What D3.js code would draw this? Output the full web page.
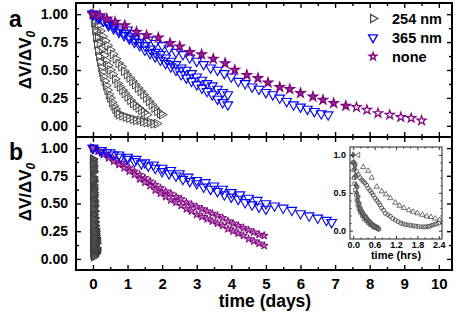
<!DOCTYPE html>
<html>
<head>
<meta charset="utf-8">
<script src="https://cdn.jsdelivr.net/npm/d3@7"></script>
<style>
  body { margin: 0; background: #fff; }
  svg { display: block; font-family: "Liberation Sans", Arial, sans-serif; font-weight: bold; }
</style>
</head>
<body>
<svg id="chart" width="471" height="314"></svg>
<script>
/* decay of dV/dV0 with time, two panels + inset */

// ---- panel a (days, value) ----
const a254_1 = [[0,1.00],[0.03,0.93],[0.06,0.86],[0.09,0.79],[0.12,0.73],[0.15,0.67],[0.18,0.62],[0.21,0.57],[0.24,0.52],[0.27,0.48],[0.30,0.44],[0.34,0.40],[0.38,0.36],[0.42,0.32],[0.46,0.28],[0.50,0.25],[0.55,0.21],[0.60,0.18],[0.65,0.15],[0.70,0.12],[0.75,0.10],[0.85,0.09],[0.95,0.08],[1.05,0.07],[1.15,0.06],[1.25,0.05],[1.35,0.05],[1.45,0.04],[1.55,0.03],[1.65,0.03],[1.75,0.02],[1.85,0.02]];
const a254_2 = [[0,1.00],[0.07,0.95],[0.14,0.90],[0.21,0.85],[0.28,0.80],[0.35,0.76],[0.42,0.72],[0.50,0.68],[0.58,0.64],[0.66,0.60],[0.74,0.56],[0.82,0.53],[0.90,0.49],[0.98,0.46],[1.06,0.43],[1.14,0.40],[1.22,0.37],[1.30,0.34],[1.38,0.31],[1.46,0.28],[1.54,0.25],[1.62,0.22],[1.70,0.19],[1.78,0.16],[1.86,0.13],[1.94,0.11],[2.00,0.10]];
const a254_3 = [[0,1.00],[0.05,0.92],[0.10,0.85],[0.15,0.79],[0.20,0.74],[0.26,0.68],[0.32,0.63],[0.38,0.58],[0.44,0.54],[0.50,0.50],[0.57,0.46],[0.64,0.42],[0.71,0.38],[0.78,0.35],[0.85,0.32],[0.92,0.29],[1.00,0.26],[1.08,0.23],[1.16,0.20],[1.24,0.18],[1.32,0.16],[1.40,0.14],[1.48,0.12],[1.56,0.10]];

const a365_1 = [[0,1.00],[0.2,0.97],[0.4,0.94],[0.6,0.91],[0.8,0.88],[1.0,0.86],[1.2,0.83],[1.4,0.80],[1.6,0.77],[1.8,0.74],[2.0,0.72],[2.2,0.69],[2.4,0.66],[2.6,0.64],[2.8,0.61],[3.0,0.58],[3.2,0.55],[3.4,0.52],[3.6,0.50],[3.8,0.47],[4.0,0.44],[4.2,0.40],[4.4,0.38],[4.6,0.35],[4.8,0.33],[5.0,0.30],[5.2,0.28],[5.4,0.25],[5.6,0.22],[5.8,0.19],[6.0,0.17],[6.2,0.15],[6.4,0.13],[6.6,0.11],[6.8,0.10]];
const a365_2 = [[0,1.00],[0.15,0.97],[0.3,0.94],[0.45,0.92],[0.6,0.89],[0.75,0.86],[0.9,0.83],[1.05,0.80],[1.2,0.78],[1.35,0.75],[1.5,0.72],[1.65,0.69],[1.8,0.66],[1.95,0.64],[2.1,0.61],[2.25,0.58],[2.4,0.55],[2.55,0.52],[2.7,0.50],[2.85,0.47],[3.0,0.44],[3.15,0.41],[3.3,0.38],[3.45,0.36],[3.6,0.33],[3.75,0.30],[3.9,0.28]];
const a365_3 = [[0,1.00],[0.15,0.97],[0.3,0.94],[0.45,0.90],[0.6,0.87],[0.75,0.84],[0.9,0.81],[1.05,0.78],[1.2,0.75],[1.35,0.72],[1.5,0.68],[1.65,0.65],[1.8,0.62],[1.95,0.59],[2.1,0.56],[2.25,0.53],[2.4,0.50],[2.55,0.46],[2.7,0.43],[2.85,0.40],[3.0,0.37],[3.15,0.34],[3.3,0.31],[3.45,0.28],[3.6,0.24],[3.75,0.21],[3.9,0.19]];

const aNone_1 = [[0,1.00],[0.2,0.99],[0.4,0.96],[0.64,0.93],[0.92,0.90],[1.26,0.84],[1.55,0.81],[1.89,0.79],[2.23,0.74],[2.51,0.71],[2.8,0.66],[3.14,0.64],[3.48,0.60],[3.82,0.56],[4.1,0.50],[4.45,0.455],[4.77,0.426],[5.06,0.387],[5.4,0.346],[5.69,0.328],[6.0,0.292],[6.36,0.262],[6.65,0.232],[6.96,0.203],[7.31,0.179]];
const aNone_2 = [[7.62,0.167],[7.92,0.143],[8.24,0.113],[8.58,0.098],[8.9,0.078],[9.2,0.069],[9.5,0.047]];

// ---- panel b (days, value) ----
const b365_1 = [[0,1.00],[0.25,0.98],[0.5,0.96],[0.75,0.94],[1.0,0.92],[1.25,0.90],[1.5,0.87],[1.75,0.85],[2.0,0.82],[2.25,0.80],[2.5,0.77],[2.75,0.74],[3.0,0.71],[3.25,0.69],[3.5,0.66],[3.75,0.63],[4.0,0.60],[4.25,0.58],[4.5,0.55],[4.75,0.53],[5.0,0.50],[5.25,0.48],[5.5,0.46],[5.75,0.44],[6.0,0.41],[6.25,0.39],[6.5,0.37],[6.75,0.35],[6.9,0.33]];
const b365_2 = [[0,1.00],[0.2,0.98],[0.4,0.96],[0.6,0.94],[0.8,0.92],[1.0,0.90],[1.2,0.88],[1.4,0.86],[1.6,0.84],[1.8,0.82],[2.0,0.79],[2.2,0.77],[2.4,0.75],[2.6,0.72],[2.8,0.70],[3.0,0.68],[3.2,0.65],[3.4,0.63],[3.6,0.61],[3.8,0.58],[4.0,0.56],[4.2,0.54],[4.4,0.51],[4.6,0.49],[4.8,0.47],[5.0,0.45]];

const bNone_1 = [[0,1.00],[0.15,0.98],[0.3,0.95],[0.45,0.93],[0.6,0.90],[0.75,0.87],[0.9,0.85],[1.05,0.82],[1.2,0.79],[1.35,0.76],[1.5,0.73],[1.65,0.70],[1.8,0.67],[1.95,0.64],[2.1,0.61],[2.25,0.59],[2.4,0.56],[2.55,0.54],[2.7,0.51],[2.85,0.49],[3.0,0.47],[3.15,0.45],[3.3,0.43],[3.45,0.41],[3.6,0.39],[3.75,0.37],[3.9,0.34],[4.05,0.32],[4.2,0.30],[4.35,0.28],[4.5,0.26],[4.65,0.24],[4.8,0.22],[4.95,0.21]];
const bNone_2 = [[0,1.00],[0.15,0.97],[0.3,0.94],[0.45,0.91],[0.6,0.88],[0.75,0.85],[0.9,0.82],[1.05,0.79],[1.2,0.76],[1.35,0.72],[1.5,0.69],[1.65,0.66],[1.8,0.62],[1.95,0.59],[2.1,0.56],[2.25,0.53],[2.4,0.51],[2.55,0.48],[2.7,0.45],[2.85,0.43],[3.0,0.40],[3.15,0.38],[3.3,0.36],[3.45,0.34],[3.6,0.32],[3.75,0.30],[3.9,0.27],[4.05,0.25],[4.2,0.23],[4.35,0.21],[4.5,0.18],[4.65,0.16],[4.8,0.14],[4.95,0.12]];

// ---- inset, 254 nm runs (hours, value) ----
const insTri = [[0.28,0.84],[0.42,0.79],[0.52,0.70],[0.66,0.58],[0.80,0.52],[0.92,0.48],[1.04,0.43],[1.18,0.37],[1.30,0.33],[1.42,0.30],[1.56,0.27],[1.68,0.25],[1.80,0.23],[1.94,0.21],[2.06,0.19],[2.18,0.18],[2.30,0.16],[2.42,0.14]];
const insCirc = [[0.05,0.88],[0.10,0.78],[0.14,0.74],[0.19,0.70],[0.24,0.67],[0.28,0.65],[0.33,0.63],[0.38,0.60],[0.42,0.56],[0.47,0.53],[0.52,0.50],[0.56,0.47],[0.61,0.43],[0.66,0.40],[0.71,0.37],[0.75,0.34],[0.80,0.30],[0.85,0.27],[0.90,0.23],[0.97,0.21],[1.04,0.19],[1.11,0.16],[1.18,0.14],[1.26,0.12],[1.33,0.10],[1.40,0.09],[1.47,0.08],[1.54,0.075],[1.61,0.07],[1.68,0.065],[1.75,0.06],[1.82,0.055],[1.90,0.05],[1.97,0.05],[2.03,0.05],[2.10,0.055],[2.15,0.06],[2.21,0.07],[2.27,0.08],[2.33,0.09],[2.40,0.10]];
const insSq = [[0.0,0.90],[0.02,0.80],[0.03,0.70],[0.04,0.62],[0.06,0.54],[0.08,0.47],[0.10,0.40],[0.13,0.34],[0.16,0.29],[0.20,0.24],[0.25,0.20],[0.30,0.16],[0.36,0.13],[0.42,0.10],[0.48,0.08],[0.55,0.06],[0.62,0.04],[0.70,0.03]];
const insDia = [[0.0,1.00],[0.02,0.90],[0.04,0.82],[0.06,0.72],[0.08,0.60],[0.10,0.50],[0.13,0.40],[0.16,0.33],[0.19,0.28],[0.22,0.25],[0.26,0.22],[0.30,0.19],[0.34,0.17],[0.38,0.15],[0.42,0.13],[0.46,0.11],[0.50,0.09],[0.54,0.07],[0.58,0.06],[0.62,0.05],[0.66,0.04],[0.70,0.03]];
const insHex = [[0.05,0.86],[0.08,0.72],[0.11,0.58],[0.14,0.45],[0.17,0.36],[0.20,0.30],[0.24,0.26],[0.28,0.23],[0.32,0.20],[0.36,0.18],[0.40,0.15],[0.44,0.13],[0.48,0.11],[0.52,0.09],[0.56,0.07],[0.60,0.05],[0.64,0.04],[0.68,0.03],[0.72,0.02]];
const insLeft = [[0.14,1.00]];

// ticks / labels
const xMajor = [0,1,2,3,4,5,6,7,8,9,10];
const xMinor = [0.5,1.5,2.5,3.5,4.5,5.5,6.5,7.5,8.5,9.5];
const yMajor = [0,0.25,0.5,0.75,1];
const yMinor = [0.125,0.375,0.625,0.875];
const ixMajor = [0,0.6,1.2,1.8,2.4];
const ixMinor = [0.2,0.4,0.8,1.0,1.4,1.6,2.0,2.2];
const iyMajor = [0,0.5,1];
const iyMinor = [0.1,0.2,0.3,0.4,0.6,0.7,0.8,0.9];
const legendItems = ["254 nm","365 nm","none"];

const svg = d3.select("#chart");
const L = 76, R = 452, T = 3, MID = 137, B = 270;
const FONT = '"Liberation Sans", Arial, sans-serif';

const x = d3.scaleLinear().domain([-0.49, 10.38]).range([L, R]);
const yA = d3.scaleLinear().domain([-0.1, 1.1]).range([MID, T]);
const yB = d3.scaleLinear().domain([-0.1, 1.1]).range([B, MID]);

const GRAY = "#4a4a4a", BLUE = "#0000ff", PURPLE = "#800080";

const sym = (type, size) => d3.symbol(type, size)();

function points(data, xs, ys, opt) {
  svg.append("g").selectAll("path").data(data).enter().append("path")
    .attr("d", sym(opt.type, opt.size))
    .attr("transform", d => `translate(${xs(d[0])},${ys(d[1])}) rotate(${opt.rot || 0})`)
    .attr("fill", opt.fill || "none")
    .attr("stroke", opt.stroke)
    .attr("stroke-width", opt.sw || 1);
}

// panel a markers
[a254_1, a254_2, a254_3].forEach(s => points(s, x, yA, {type: d3.symbolTriangle, size: 35, rot: 90, stroke: GRAY}));
[a365_1, a365_2, a365_3].forEach(s => points(s, x, yA, {type: d3.symbolTriangle, size: 40, rot: 180, stroke: BLUE, sw: 1.1}));
points(aNone_1, x, yA, {type: d3.symbolStar, size: 28, stroke: PURPLE, fill: "#8e2a8e", sw: 1.2});
points(aNone_2, x, yA, {type: d3.symbolStar, size: 26, stroke: PURPLE, fill: "#fff", sw: 1.2});

// panel b markers
const hrsToDays = d => [d[0] / 24, d[1]];
[insTri, insCirc, insSq, insDia, insHex].forEach(s =>
  points(s.map(hrsToDays), x, yB, {type: d3.symbolTriangle, size: 34, rot: 90, stroke: "#3a3a3a", fill: "#555"}));
[bNone_1, bNone_2].forEach(s => points(s, x, yB, {type: d3.symbolStar, size: 19, stroke: PURPLE, fill: "#b468b4", sw: 1}));
[b365_1, b365_2].forEach(s => points(s, x, yB, {type: d3.symbolTriangle, size: 40, rot: 180, stroke: BLUE, sw: 1.1}));

// axes helper: inward ticks, no domain line
function axis(gen, scale, tr, vals, size, fmt, pad, fs) {
  const g = svg.append("g").attr("transform", tr)
    .call(gen(scale).tickValues(vals).tickSize(size).tickPadding(pad).tickFormat(fmt || (() => "")));
  g.select(".domain").remove();
  g.selectAll("line").attr("stroke", "#000").attr("stroke-width", 1.4);
  g.selectAll("text").attr("font-size", fs || 14).attr("font-weight", "bold")
    .attr("font-family", FONT).attr("fill", "#000");
  return g;
}
const f2 = d3.format(".2f"), fInt = d3.format("d");

// panel a
axis(d3.axisLeft, yA, `translate(${L},0)`, yMajor, -5, f2, 8, 14);
axis(d3.axisLeft, yA, `translate(${L},0)`, yMinor, -3);
axis(d3.axisRight, yA, `translate(${R},0)`, yMajor, -5);
axis(d3.axisRight, yA, `translate(${R},0)`, yMinor, -3);
axis(d3.axisTop, x, `translate(0,${T})`, xMajor, -5);
axis(d3.axisTop, x, `translate(0,${T})`, xMinor, -3);
axis(d3.axisBottom, x, `translate(0,${MID})`, xMajor, -5);
axis(d3.axisBottom, x, `translate(0,${MID})`, xMinor, -3);
// panel b
axis(d3.axisLeft, yB, `translate(${L},0)`, yMajor, -5, f2, 8, 14);
axis(d3.axisLeft, yB, `translate(${L},0)`, yMinor, -3);
axis(d3.axisRight, yB, `translate(${R},0)`, yMajor, -5);
axis(d3.axisRight, yB, `translate(${R},0)`, yMinor, -3);
axis(d3.axisTop, x, `translate(0,${MID})`, xMajor, -5);
axis(d3.axisTop, x, `translate(0,${MID})`, xMinor, -3);
axis(d3.axisBottom, x, `translate(0,${B})`, xMajor, -5, fInt, 8, 15);
axis(d3.axisBottom, x, `translate(0,${B})`, xMinor, -3);

// frames
svg.append("rect").attr("x", L).attr("y", T).attr("width", R - L).attr("height", B - T)
  .attr("fill", "none").attr("stroke", "#000").attr("stroke-width", 2);
svg.append("line").attr("x1", L).attr("x2", R).attr("y1", MID).attr("y2", MID)
  .attr("stroke", "#000").attr("stroke-width", 2);

// y titles
[60, 192].forEach(cy => {
  const t = svg.append("text").attr("transform", `translate(31,${cy}) rotate(-90)`)
    .attr("text-anchor", "middle").attr("font-size", 17).attr("font-weight", "bold").attr("font-family", FONT);
  t.append("tspan").text("ΔV/ΔV");
  t.append("tspan").text("0").attr("font-style", "italic").attr("font-size", 12).attr("dy", 4);
});

// panel letters
svg.append("text").attr("x", 9).attr("y", 27).attr("font-size", 23).attr("font-weight", "bold").attr("font-family", FONT).text("a");
svg.append("text").attr("x", 9).attr("y", 160).attr("font-size", 23).attr("font-weight", "bold").attr("font-family", FONT).text("b");

// x title
svg.append("text").attr("x", 265).attr("y", 307).attr("text-anchor", "middle")
  .attr("font-size", 17.5).attr("font-weight", "bold").attr("font-family", FONT).text("time (days)");

// legend
const legendSym = [
  {type: d3.symbolTriangle, size: 30, rot: 90, stroke: GRAY, fill: "none"},
  {type: d3.symbolTriangle, size: 34, rot: 180, stroke: BLUE, fill: "none"},
  {type: d3.symbolStar, size: 18, rot: 0, stroke: PURPLE, fill: "#fff"}
];
const lg = svg.append("g");
legendItems.forEach((name, i) => {
  const cy = 18.5 + i * 19;
  const s = legendSym[i];
  lg.append("path").attr("d", sym(s.type, s.size))
    .attr("transform", `translate(373,${cy}) rotate(${s.rot})`)
    .attr("fill", s.fill).attr("stroke", s.stroke).attr("stroke-width", 1.3);
  lg.append("text").attr("x", 392).attr("y", cy + 5).attr("font-size", 14.5)
    .attr("font-weight", "bold").attr("font-family", FONT).text(name);
});

// inset
const IL = 350, IR = 442, IT = 147, IB = 239;
const xi = d3.scaleLinear().domain([-0.09, 2.49]).range([IL, IR]);
const yi = d3.scaleLinear().domain([-0.11, 1.105]).range([IB, IT]);
svg.append("rect").attr("x", IL).attr("y", IT).attr("width", IR - IL).attr("height", IB - IT)
  .attr("fill", "#fff").attr("stroke", "none");

const ig = "#4d4d4d";
points(insTri, xi, yi, {type: d3.symbolTriangle, size: 12, stroke: ig, sw: 0.8});
points(insCirc, xi, yi, {type: d3.symbolCircle, size: 13, stroke: ig, sw: 0.9});
points(insSq, xi, yi, {type: d3.symbolSquare, size: 12, stroke: ig, sw: 0.8});
points(insDia, xi, yi, {type: d3.symbolDiamond, size: 12, stroke: ig, fill: "#666", sw: 0.8});
points(insHex, xi, yi, {type: d3.symbolCircle, size: 12, stroke: ig, fill: "#777", sw: 0.8});
points(insLeft, xi, yi, {type: d3.symbolTriangle, size: 12, rot: -90, stroke: ig, sw: 0.8});

function iaxis(gen, scale, tr, vals, size, fmt, pad) {
  const g = axis(gen, scale, tr, vals, size, fmt, pad, 9);
  g.selectAll("line").attr("stroke-width", 0.8);
  return g;
}
const f1 = d3.format(".1f");
iaxis(d3.axisLeft, yi, `translate(${IL},0)`, iyMajor, -3, f1, 4);
iaxis(d3.axisLeft, yi, `translate(${IL},0)`, iyMinor, -1.5);
iaxis(d3.axisRight, yi, `translate(${IR},0)`, iyMajor, -3);
iaxis(d3.axisRight, yi, `translate(${IR},0)`, iyMinor, -1.5);
iaxis(d3.axisBottom, xi, `translate(0,${IB})`, ixMajor, -3, f1, 3);
iaxis(d3.axisBottom, xi, `translate(0,${IB})`, ixMinor, -1.5);
iaxis(d3.axisTop, xi, `translate(0,${IT})`, ixMajor, -3);
iaxis(d3.axisTop, xi, `translate(0,${IT})`, ixMinor, -1.5);
svg.append("rect").attr("x", IL).attr("y", IT).attr("width", IR - IL).attr("height", IB - IT)
  .attr("fill", "none").attr("stroke", "#222").attr("stroke-width", 1);
svg.append("text").attr("x", 396).attr("y", 259).attr("text-anchor", "middle")
  .attr("font-size", 11).attr("font-weight", "bold").attr("font-family", FONT).text("time (hrs)");
</script>
</body>
</html>
